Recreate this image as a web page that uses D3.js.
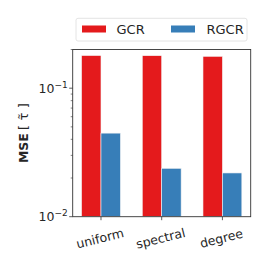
<!DOCTYPE html>
<html>
<meta charset='utf-8'>
<head>
<script src='https://d3js.org/d3.v7.min.js'></script>
<style>
body { margin: 0; background: #fff; }
text { font-family: 'DejaVu Sans', sans-serif; fill: #262626; }
</style>
</head>
<body>
<div id='chart'></div>
<script>
var categories = ['uniform', 'spectral', 'degree'];
var seriesNames = ['GCR', 'RGCR'];
var gcr = [0.1795, 0.179, 0.177];
var rgcr = [0.0447, 0.0238, 0.0219];
var colors = ['#e41a1c', '#377eb8'];

var W = 263, H = 263;
var m = {left: 72.7, right: 250.7, top: 49.5, bottom: 216.7};

var svg = d3.select('#chart').append('svg')
    .attr('width', W).attr('height', H);

var x = d3.scalePoint().domain(categories).range([m.left, m.right]).padding(0.466);
var step = x.step();
var bw = step * 0.32;

var y = d3.scaleLog().domain([0.01, 0.2]).range([m.bottom, m.top]);

var series = [gcr, rgcr];
series.forEach(function(vals, s) {
    svg.selectAll('.bar' + s)
        .data(vals)
        .enter()
        .append('rect')
        .attr('x', function(d, i) { return x(categories[i]) + (s - 1) * bw; })
        .attr('y', function(d) { return y(d); })
        .attr('width', bw)
        .attr('height', function(d) { return m.bottom - y(d); })
        .style('fill', colors[s])
        .style('stroke', '#f4f4f4')
        .style('stroke-width', 0.6);
});

// y ticks
var minor = [];
[0.01, 0.1].forEach(function(b) {
    for (var k = 2; k <= 9; k++) { if (b * k <= 0.2) minor.push(b * k); }
});
svg.selectAll('.minor').data(minor).enter().append('line')
    .attr('x1', m.left - 2).attr('x2', m.left)
    .attr('y1', function(d) { return y(d); }).attr('y2', function(d) { return y(d); })
    .style('stroke', '#333').style('stroke-width', 0.6);

var major = [{v: 0.1, e: '\u22121'}, {v: 0.01, e: '\u22122'}];
svg.selectAll('.major').data(major).enter().append('line')
    .attr('x1', m.left - 3.5).attr('x2', m.left)
    .attr('y1', function(d) { return y(d.v); }).attr('y2', function(d) { return y(d.v); })
    .style('stroke', '#333').style('stroke-width', 0.8);

var lab = svg.selectAll('.ylab').data(major).enter().append('text')
    .attr('x', m.left - 5)
    .attr('y', function(d) { return y(d.v) + 4.5; })
    .attr('text-anchor', 'end')
    .style('font-size', '12.5px');
lab.append('tspan').text('10');
lab.append('tspan').attr('dy', -5).style('font-size', '9px').text(function(d) { return d.e; });

// x ticks
svg.selectAll('.xt').data(categories).enter().append('line')
    .attr('x1', function(d) { return x(d); }).attr('x2', function(d) { return x(d); })
    .attr('y1', m.bottom).attr('y2', m.bottom + 3.5)
    .style('stroke', '#333').style('stroke-width', 0.8);

svg.selectAll('.xl').data(categories).enter().append('text')
    .attr('transform', function(d) { return 'translate(' + x(d) + ',' + (m.bottom + 26) + ') rotate(-14)'; })
    .attr('text-anchor', 'middle')
    .style('font-size', '12.5px')
    .text(function(d) { return d; });

// spines
svg.append('rect')
    .attr('x', m.left).attr('y', m.top)
    .attr('width', m.right - m.left).attr('height', m.bottom - m.top)
    .style('fill', 'none').style('stroke', '#333').style('stroke-width', 0.9);

// y label
var yl = svg.append('text')
    .attr('transform', 'translate(27.5,' + ((m.top + m.bottom) / 2) + ') rotate(-90)')
    .attr('text-anchor', 'middle');
yl.append('tspan').style('font-weight', 'bold').style('font-size', '12.5px').text('MSE');
yl.append('tspan').attr('dx', 3).style('font-size', '13px').text('[');
yl.append('tspan').attr('dx', 4.5).style('font-size', '13px').text('\u03c4\u0303');
yl.append('tspan').attr('dx', 4.5).style('font-size', '13px').text(']');

// legend
var lg = svg.append('g');
lg.append('rect')
    .attr('x', 76).attr('y', 18.3).attr('width', 171).attr('height', 22.7)
    .attr('rx', 2)
    .style('fill', '#fff').style('stroke', '#ddd').style('stroke-width', 0.8);
var lx = [[82, 116.5], [171, 206.5]];
seriesNames.forEach(function(n, i) {
    lg.append('rect')
        .attr('x', lx[i][0]).attr('y', 25.5).attr('width', 24).attr('height', 7)
        .style('fill', colors[i]);
    lg.append('text')
        .attr('x', lx[i][1]).attr('y', 34)
        .style('font-size', '13px')
        .text(n);
});
</script>
</body>
</html>
